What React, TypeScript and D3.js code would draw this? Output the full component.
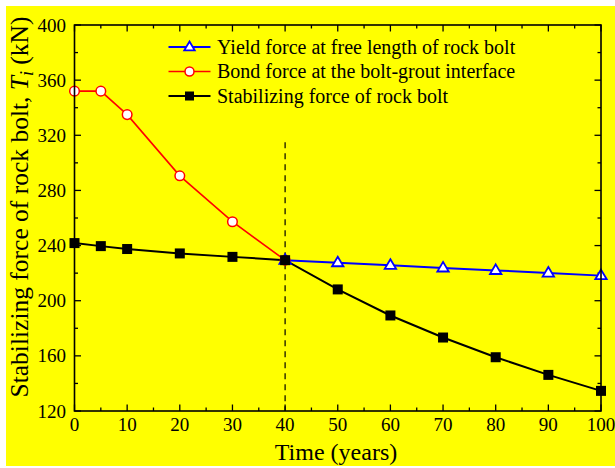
import React from "react";
import * as d3 from "d3";

const yieldYears = [40, 50, 60, 70, 80, 90, 100];
const yieldForce = [229.4, 227.6, 225.7, 223.8, 222.0, 220.1, 218.2];

const bondYears = [0, 5, 10, 20, 30, 40];
const bondForce = [352, 352, 335, 290.6, 257.3, 229.4];

const stabYears = [0, 5, 10, 20, 30, 40, 50, 60, 70, 80, 90, 100];
const stabForce = [241.8, 239.6, 237.5, 234.3, 231.8, 229.4, 208.2, 189.3, 173.3, 159.0, 146.2, 134.6];

const xTicks = [0, 10, 20, 30, 40, 50, 60, 70, 80, 90, 100];
const yTicks = [120, 160, 200, 240, 280, 320, 360, 400];

const legendLabels = [
  "Yield force at free length of rock bolt",
  "Bond force at the bolt-grout interface",
  "Stabilizing force of rock bolt",
];

const W = 615;
const H = 468;
const M = { left: 74.5, right: 601, top: 25, bottom: 411 };
const FONT = "'Liberation Serif', 'Times New Roman', serif";

export default function App() {
  const x = d3.scaleLinear().domain([0, 100]).range([M.left, M.right]);
  const y = d3.scaleLinear().domain([120, 400]).range([M.bottom, M.top]);
  const line = d3
    .line<[number, number]>()
    .x((d) => x(d[0]))
    .y((d) => y(d[1]));

  const yieldPts = yieldYears.map((t, i) => [t, yieldForce[i]] as [number, number]);
  const bondPts = bondYears.map((t, i) => [t, bondForce[i]] as [number, number]);
  const stabPts = stabYears.map((t, i) => [t, stabForce[i]] as [number, number]);

  const xMinor = d3.range(5, 100, 10);
  const yMinor = d3.range(140, 400, 40);

  const tri = (cx: number, cy: number, s: number) =>
    `M${cx},${cy - s} L${cx + s * 0.95},${cy + s * 0.6} L${cx - s * 0.95},${cy + s * 0.6} Z`;

  const legendY = [47, 71.5, 96];
  const lx0 = 168.5;
  const lx1 = 210.5;
  const lmx = (lx0 + lx1) / 2;

  return (
    <svg
      width={W}
      height={H}
      style={{ position: "absolute", left: 0, top: 0 }}
      fontFamily={FONT}
    >
      <rect x={0} y={0} width={W} height={H} fill="#fff" />
      <rect x={6} y={6} width={W - 6} height={H - 8} fill="#ffff00" />

      {/* ticks (inward on all four sides) */}
      <g stroke="#000" strokeWidth={1.3}>
        {xTicks.map((t) => (
          <g key={"xt" + t}>
            <line x1={x(t)} x2={x(t)} y1={M.bottom} y2={M.bottom - 6.5} />
            <line x1={x(t)} x2={x(t)} y1={M.top} y2={M.top + 6.5} />
          </g>
        ))}
        {xMinor.map((t) => (
          <g key={"xm" + t}>
            <line x1={x(t)} x2={x(t)} y1={M.bottom} y2={M.bottom - 3.5} />
            <line x1={x(t)} x2={x(t)} y1={M.top} y2={M.top + 3.5} />
          </g>
        ))}
        {yTicks.map((t) => (
          <g key={"yt" + t}>
            <line x1={M.left} x2={M.left + 6.5} y1={y(t)} y2={y(t)} />
            <line x1={M.right} x2={M.right - 6.5} y1={y(t)} y2={y(t)} />
          </g>
        ))}
        {yMinor.map((t) => (
          <g key={"ym" + t}>
            <line x1={M.left} x2={M.left + 3.5} y1={y(t)} y2={y(t)} />
            <line x1={M.right} x2={M.right - 3.5} y1={y(t)} y2={y(t)} />
          </g>
        ))}
      </g>

      {/* tick labels */}
      <g fontSize={19} fill="#000">
        {xTicks.map((t) => (
          <text key={"xl" + t} x={x(t)} y={431} textAnchor="middle">
            {t}
          </text>
        ))}
        {yTicks.map((t) => (
          <text key={"yl" + t} x={66} y={y(t) + 6.5} textAnchor="end">
            {t}
          </text>
        ))}
      </g>

      {/* vertical dashed marker at t = 40 */}
      <line
        x1={x(40)}
        x2={x(40)}
        y1={y(315)}
        y2={M.bottom}
        stroke="#000"
        strokeWidth={1.2}
        strokeDasharray="6,5"
      />

      {/* series lines */}
      <path d={line(bondPts) || ""} fill="none" stroke="#ff0000" strokeWidth={1.6} />
      <path d={line(yieldPts) || ""} fill="none" stroke="#0000ff" strokeWidth={2} />
      <path d={line(stabPts) || ""} fill="none" stroke="#000" strokeWidth={2} />

      {/* markers */}
      {bondPts.map((p, i) => (
        <circle
          key={"bc" + i}
          cx={x(p[0])}
          cy={y(p[1])}
          r={4.8}
          fill="#fff"
          stroke="#ff0000"
          strokeWidth={1.5}
        />
      ))}
      {yieldPts.map((p, i) => (
        <path
          key={"yt" + i}
          d={tri(x(p[0]), y(p[1]), 6)}
          fill="#fff"
          stroke="#0000ff"
          strokeWidth={1.8}
        />
      ))}
      {stabPts.map((p, i) => (
        <rect
          key={"sq" + i}
          x={x(p[0]) - 5}
          y={y(p[1]) - 5}
          width={10}
          height={10}
          fill="#000"
        />
      ))}

      {/* frame */}
      <rect
        x={M.left}
        y={M.top}
        width={M.right - M.left}
        height={M.bottom - M.top}
        fill="none"
        stroke="#000"
        strokeWidth={1.6}
      />

      {/* legend */}
      <g>
        <line x1={lx0} x2={lx1} y1={legendY[0]} y2={legendY[0]} stroke="#0000ff" strokeWidth={2} />
        <path d={tri(lmx, legendY[0], 5.5)} fill="#fff" stroke="#0000ff" strokeWidth={1.8} />
        <line x1={lx0} x2={lx1} y1={legendY[1]} y2={legendY[1]} stroke="#ff0000" strokeWidth={1.6} />
        <circle cx={lmx} cy={legendY[1]} r={4.5} fill="#fff" stroke="#ff0000" strokeWidth={1.5} />
        <line x1={lx0} x2={lx1} y1={legendY[2]} y2={legendY[2]} stroke="#000" strokeWidth={2} />
        <rect x={lmx - 4.5} y={legendY[2] - 4.5} width={9} height={9} fill="#000" />
        {legendLabels.map((s, i) => (
          <text key={s} x={217} y={legendY[i] + 6.5} fontSize={20} fill="#000">
            {s}
          </text>
        ))}
      </g>

      {/* axis titles */}
      <text x={336} y={460} textAnchor="middle" fontSize={24} fill="#000">
        Time (years)
      </text>
      <text
        transform={`translate(28,${207}) rotate(-90)`}
        textAnchor="middle"
        fontSize={25.5}
        fill="#000"
      >
        Stabilizing force of rock bolt,{" "}
        <tspan fontStyle="italic">T</tspan>
        <tspan fontStyle="italic" fontSize={18} dy={5}>
          i
        </tspan>
        <tspan dy={-5}> (kN)</tspan>
      </text>
    </svg>
  );
}
